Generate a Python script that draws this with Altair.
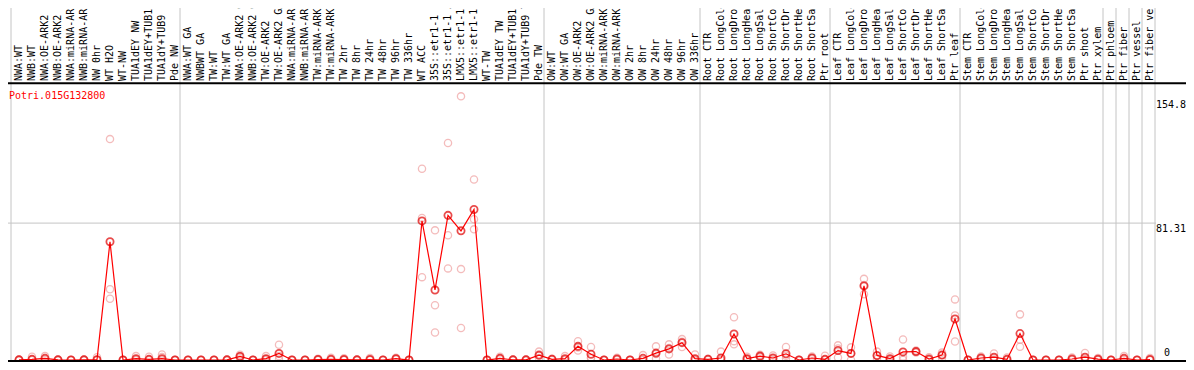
import altair as alt
import pandas as pd
import numpy as np

gene = "Potri.015G132800"

labels = [
    "NWA:WT", "NWB:WT", "NWA:OE-ARK2", "NWB:OE-ARK2", "NWA:miRNA-ARK2", "NWB:miRNA-ARK2",
    "NW 0hr", "WT H2O", "WT-NW", "TUA1dEY NW", "TUA1dEY+TUB15 NW", "TUA1dY+TUB9 NW", "Pde NW",
    "NWA:WT GA", "NWBWT GA", "TW:WT", "TW:WT GA", "NWA:OE-ARK2 GA", "NWB:OE-ARK2 GA",
    "TW:OE-ARK2", "TW:OE-ARK2 GA", "NWA:miRNA-ARK2", "NWB:miRNA-ARK2", "TW:miRNA-ARK2",
    "TW:miRNA-ARK2", "TW 2hr", "TW 8hr", "TW 24hr", "TW 48hr", "TW 96hr", "TW 336hr", "WT ACC",
    "35S::etr1-1 H2O", "35S::etr1-1 ACC", "LMX5::etr1-1 H2O", "LMX5::etr1-1 ACC", "WT-TW",
    "TUA1dEY TW", "TUA1dEY+TUB15 TW", "TUA1dY+TUB9 TW", "Pde TW",
    "OW:WT", "OW:WT GA", "OW:OE-ARK2", "OW:OE-ARK2 GA", "OW:miRNA-ARK2", "OW:miRNA-ARK2",
    "OW 2hr", "OW 8hr", "OW 24hr", "OW 48hr", "OW 96hr", "OW 336hr",
    "Root CTR", "Root LongCold", "Root LongDrought", "Root LongHeat", "Root LongSalt",
    "Root ShortCold", "Root ShortDrought", "Root ShortHeat", "Root ShortSalt", "Ptr root",
    "Leaf CTR", "Leaf LongCold", "Leaf LongDrought", "Leaf LongHeat", "Leaf LongSalt",
    "Leaf ShortCold", "Leaf ShortDrought", "Leaf ShortHeat", "Leaf ShortSalt", "Ptr leaf",
    "Stem CTR", "Stem LongCold", "Stem LongDrought", "Stem LongHeat", "Stem LongSalt",
    "Stem ShortCold", "Stem ShortDrought", "Stem ShortHeat", "Stem ShortSalt", "Ptr shoot",
    "Ptr xylem", "Ptr phloem", "Ptr fiber", "Ptr vessel", "Ptr fiber vessel",
]

means = [
    0.1, 0.4, 1.0, 0.1, 0.0, 0.1, 0.2, 70.2, 0.0, 0.8, 0.4, 0.8, 0.0,
    0.0, 0.0, 0.0, 0.1, 2.1, 0.0, 0.8, 3.9, 0.0, 0.0, 0.3, 0.4, 0.3, 0.1, 0.3, 0.0, 0.8, 0.0,
    82.6, 41.6, 85.9, 76.7, 89.4, 0.0, 1.0, 0.1, 0.1, 2.9,
    0.4, 0.8, 8.1, 3.4, 0.0, 0.6, 0.0, 1.0, 4.1, 6.6, 10.3, 0.8,
    0.4, 1.2, 15.5, 0.8, 2.3, 1.2, 3.7, 0.0, 1.2, 0.4,
    5.6, 3.9, 44.0, 2.7, 0.8, 4.8, 5.0, 0.6, 2.9, 24.4,
    0.0, 1.2, 1.7, 0.4, 15.7, 0.0, 0.0, 0.0, 0.6, 1.7,
    0.5, 0.0, 1.0, 0.0, 0.3,
]

rep_a = [
    0.3, 1.9, 2.3, 0.3, 0.0, 0.3, 1.6, 131.2, 0.0, 2.3, 1.9, 3.3, 0.0,
    0.0, 0.0, 0.0, 0.3, 3.1, 0.0, 2.3, 9.1, 0.0, 0.0, 0.8, 1.3, 1.0, 0.3, 1.2, 0.0, 1.3, 0.0,
    113.6, 77.0, 128.9, 156.6, 107.2, 0.0, 1.9, 0.3, 0.3, 5.0,
    0.8, 2.3, 11.2, 7.7, 0.0, 1.3, 0.0, 2.9, 8.1, 9.3, 12.4, 3.3,
    0.8, 5.0, 25.4, 1.9, 3.1, 2.7, 7.7, 0.0, 2.1, 2.5,
    8.7, 7.5, 48.2, 5.0, 2.1, 12.2, 5.6, 1.7, 4.4, 36.0,
    0.0, 2.1, 3.9, 1.5, 27.1, 0.0, 0.0, 0.0, 1.5, 4.2,
    1.2, 0.0, 2.3, 0.0, 1.2,
]

rep_b = [
    0.0, 0.1, 0.5, 0.0, 0.0, 0.0, 0.0, 42.0, 0.0, 0.1, 0.0, 1.8, 0.0,
    0.0, 0.0, 0.0, 0.0, 2.3, 0.0, 0.5, 2.3, 0.0, 0.0, 0.0, 0.0, 0.0, 0.0, 0.0, 0.0, 0.8, 0.0,
    84.4, 32.5, 74.1, 54.0, 83.6, 0.0, 0.8, 0.0, 0.0, 2.5,
    0.3, 0.2, 7.5, 1.5, 0.0, 0.4, 0.0, 0.2, 3.5, 7.1, 10.8, 0.2,
    0.3, 0.0, 11.2, 0.5, 2.3, 0.8, 2.5, 0.0, 1.0, 0.0,
    6.8, 4.0, 44.5, 2.5, 0.3, 2.0, 5.0, 0.1, 3.0, 26.5,
    0.0, 1.0, 1.0, 0.0, 12.1, 0.0, 0.0, 0.0, 0.2, 0.8,
    0.2, 0.0, 0.5, 0.0, 0.0,
]

rep_c = [
    0.0, 0.0, 0.2, 0.0, 0.0, 0.0, 0.0, 36.4, 0.0, 0.0, 0.0, 0.0, 0.0,
    0.0, 0.0, 0.0, 0.0, 1.0, 0.0, 0.0, 0.3, 0.0, 0.0, 0.0, 0.0, 0.0, 0.0, 0.0, 0.0, 0.3, 0.0,
    49.2, 16.3, 54.4, 19.0, 77.6, 0.0, 0.3, 0.0, 0.0, 1.2,
    0.0, 0.0, 5.6, 1.0, 0.0, 0.0, 0.0, 0.0, 0.9, 3.3, 7.7, 0.0,
    0.0, 0.0, 9.3, 0.0, 1.5, 0.0, 1.0, 0.0, 0.5, 0.0,
    1.5, 0.0, 39.1, 0.6, 0.0, 0.2, 4.4, 0.0, 1.3, 11.0,
    0.0, 0.5, 0.2, 0.0, 7.9, 0.0, 0.0, 0.0, 0.0, 0.1,
    0.0, 0.0, 0.2, 0.0, 0.0,
]

group_sizes = [13, 28, 12, 10, 10, 11, 1, 1, 1, 1]
axis_ticks = [154.8, 81.31, 0]
axis_tick_text = ["154.8", "81.31", "0"]

# ---------------- layout (pixels, chart coordinates) ----------------
W, H = 1178, 354
STEP = 13.0
FIRST_X = 11.0          # x pixel of first column
ZERO_Y = 352.0          # y pixel of value 0
GRID_Y = 215.1          # y pixel of the 81.31 tick
PX_PER_UNIT = (ZERO_Y - GRID_Y) / 81.31

x_dom = [1 - FIRST_X / STEP, 1 + (W - FIRST_X) / STEP]
y_dom = [(ZERO_Y - H) / PX_PER_UNIT, ZERO_Y / PX_PER_UNIT]

xs = alt.Scale(domain=x_dom, nice=False, zero=False)
ys = alt.Scale(domain=y_dom, nice=False, zero=False)

MONO = "DejaVu Sans Mono"

n = len(labels)
idx = list(range(1, n + 1))
df = pd.DataFrame({"idx": idx, "label": labels, "mean": means})
reps = pd.DataFrame({
    "idx": idx * 3,
    "value": rep_a + rep_b + rep_c,
})

bounds = [0] + list(np.cumsum(group_sizes))
sep_df = pd.DataFrame({"pos": [b + 1 - 8.0 / STEP for b in bounds]})
tick_df = pd.DataFrame({"v": axis_ticks, "t": axis_tick_text})

X = lambda f: alt.X(f, type="quantitative", scale=xs, axis=None)
Y = lambda f: alt.Y(f, type="quantitative", scale=ys, axis=None)

seps = alt.Chart(sep_df).mark_rule(color="#c4c4c4", strokeWidth=1).encode(
    x=X("pos"), y=alt.value(-10), y2=alt.value(H + 10)
)

grid = alt.Chart(tick_df[tick_df["v"] == 81.31]).mark_rule(color="#c4c4c4", strokeWidth=1).encode(
    y=Y("v"), x=alt.value(0), x2=alt.value(1148)
)

rep_pts = alt.Chart(reps).mark_point(
    shape="circle", filled=False, size=52, color="#f0a0a0", strokeWidth=1.3
).encode(x=X("idx"), y=Y("value"))

line = alt.Chart(df).mark_line(color="#ff0000", strokeWidth=1.2).encode(
    x=X("idx"), y=Y("mean")
)

mean_pts = alt.Chart(df).mark_point(
    shape="circle", filled=False, size=52, color="#e00000", strokeWidth=1.8
).encode(x=X("idx"), y=Y("mean"))

header_line = alt.Chart(df.head(1)).mark_rule(color="black", strokeWidth=2).encode(
    y=alt.value(75.3), x=alt.value(-10), x2=alt.value(W + 10)
)
base_line = alt.Chart(df.head(1)).mark_rule(color="black", strokeWidth=2).encode(
    y=alt.value(353), x=alt.value(-10), x2=alt.value(W + 10)
)

header = alt.Chart(df).mark_text(
    angle=270, align="left", baseline="middle", font=MONO, fontSize=10, color="black"
).encode(x=X("idx"), y=alt.value(73), text="label:N")

gene_txt = alt.Chart(pd.DataFrame({"t": [gene]})).mark_text(
    align="left", baseline="alphabetic", font=MONO, fontSize=10, color="#ff0000"
).encode(x=alt.value(1), y=alt.value(91), text="t:N")

tick_top = alt.Chart(tick_df[tick_df["v"] > 0]).mark_text(
    align="left", baseline="top", font=MONO, fontSize=10, color="black", dy=1
).encode(x=alt.value(1148), y=Y("v"), text="t:N")

tick_zero = alt.Chart(tick_df[tick_df["v"] == 0]).mark_text(
    align="left", baseline="bottom", font=MONO, fontSize=10, color="black", dy=-2
).encode(x=alt.value(1156), y=Y("v"), text="t:N")

chart = alt.layer(
    seps, grid, rep_pts, line, mean_pts, header_line, base_line, header, gene_txt, tick_top, tick_zero
).properties(
    width=W, height=H, padding=0, autosize=alt.AutoSizeParams(type="none"),
    background="white"
).configure_view(stroke=None)

chart.save("out.html", embed_options={"renderer": "svg", "actions": False})
